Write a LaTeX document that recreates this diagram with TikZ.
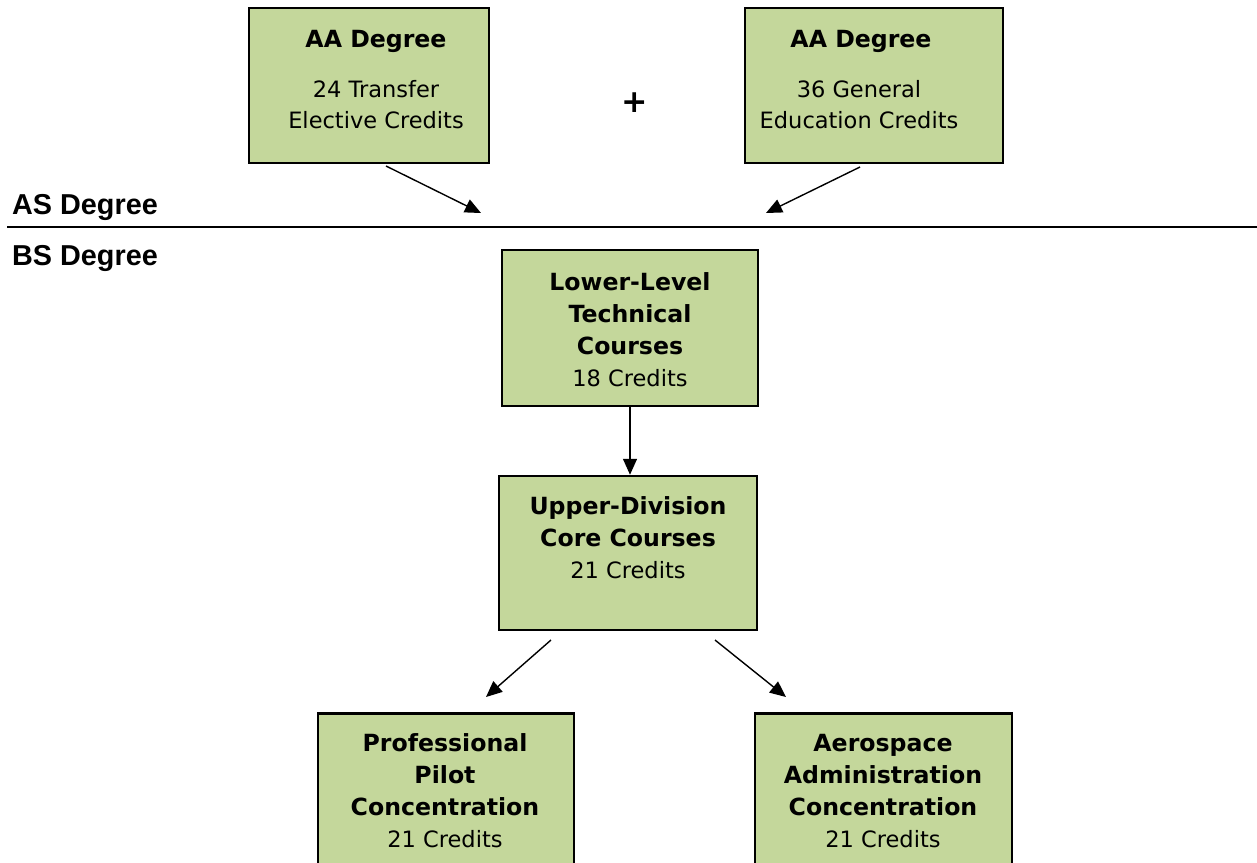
\documentclass[tikz,border=0pt]{standalone}
\usepackage{fontspec}
\setmainfont{DejaVu Sans}[BoldFeatures={Scale=1.05}]
\newfontfamily\arialfont{Liberation Sans}
\usetikzlibrary{arrows.meta,calc}
\definecolor{boxgreen}{HTML}{C4D79B}
\begin{document}
\begin{tikzpicture}[x=1pt,y=-1pt,
  box/.style={draw=black,line width=2.5pt,fill=boxgreen,rectangle,inner sep=0pt},
  txt/.style={anchor=base,align=center,inner sep=0pt,font=\fontsize{22.5}{31}\selectfont},
  txtb/.style={anchor=base,align=center,inner sep=0pt,font=\fontsize{22.5}{32}\selectfont},
  lab/.style={anchor=base west,inner sep=0pt,font=\arialfont\bfseries\fontsize{28.8}{32}\selectfont},
  arr/.style={line width=1.4pt,-{Triangle[length=16pt,width=14pt]}}]
\clip (0,0) rectangle (1257,862);
\fill[white] (0,0) rectangle (1257,862);
% top boxes
\node[box,minimum width=240pt,minimum height=155pt] (aa1) at (369,85.5) {};
\node[box,minimum width=258pt,minimum height=155pt] (aa2) at (874,85.5) {};
\node[txt] (aa1t) at (376,47) {\bfseries AA Degree};
\node[txt] (aa1b) at (376,128) {24 Transfer\\Elective Credits};
\node[txt] (aa2t) at (861,47) {\bfseries AA Degree};
\node[txt] (aa2b) at (859,128) {36 General\\Education Credits};
\node[inner sep=0pt,font=\bfseries\fontsize{30}{32}\selectfont] (plus) at (635,103) {+};
% arrows to AS line
\coordinate (a1s) at (386,166);
\coordinate (a1e) at (481,213);
\coordinate (a2s) at (860,167);
\coordinate (a2e) at (766,213);
\draw[arr] (a1s) -- (a1e);
\draw[arr] (a2s) -- (a2e);
% divider
\coordinate (ls) at (7,227);
\coordinate (le) at (1257,227);
\draw[line width=2pt] (ls) -- (le);
\node[lab] (as) at (12,214) {AS Degree};
\node[lab] (bs) at (12,265) {BS Degree};
% lower level
\node[box,minimum width=256pt,minimum height=156pt] (ll) at (630,328) {};
\node[txtb] (llt) at (630,386) {\bfseries Lower-Level\\\bfseries Technical\\\bfseries Courses\\18 Credits};
\node[box,minimum width=258pt,minimum height=154pt] (ud) at (628,553) {};
\node[txtb] (udt) at (628,578) {\bfseries Upper-Division\\\bfseries Core Courses\\21 Credits};
\draw[arr] (ll.south) -- (ll.south |- ud.north);
% concentrations
\node[box,minimum width=256pt,minimum height=180pt,anchor=north] (pp) at (446,712) {};
\node[txtb] (ppt) at (445,847) {\bfseries Professional\\\bfseries Pilot\\\bfseries Concentration\\21 Credits};
\node[box,minimum width=257pt,minimum height=180pt,anchor=north] (ad) at (883.5,712) {};
\node[txtb] (adt) at (883,847) {\bfseries Aerospace\\\bfseries Administration\\\bfseries Concentration\\21 Credits};
\coordinate (a3s) at (551,640);
\coordinate (a3e) at (486,697);
\coordinate (a4s) at (715,640);
\coordinate (a4e) at (786,697);
\draw[arr] (a3s) -- (a3e);
\draw[arr] (a4s) -- (a4e);
\end{tikzpicture}
\end{document}
